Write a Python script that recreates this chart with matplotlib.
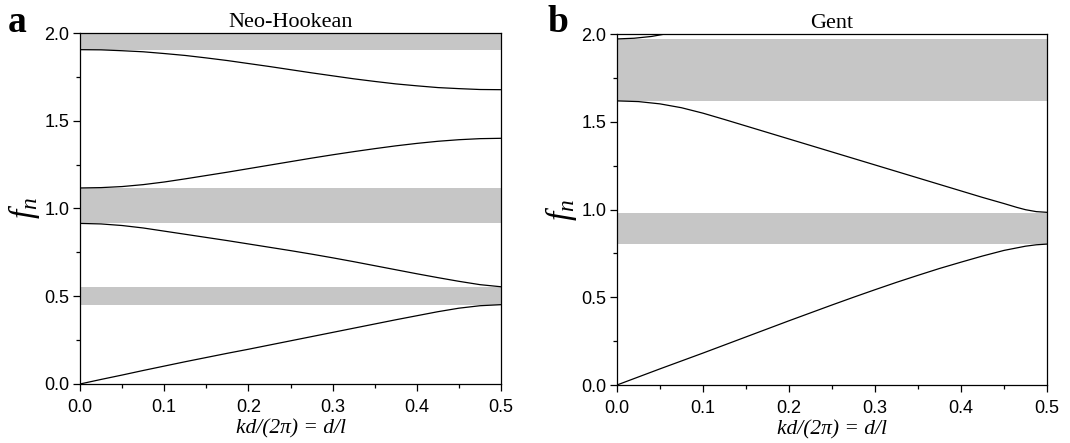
import matplotlib
matplotlib.use("Agg")
import matplotlib.pyplot as plt
from matplotlib.ticker import MultipleLocator, FormatStrFormatter

plt.rcParams["mathtext.fontset"] = "custom"
plt.rcParams["mathtext.rm"] = "Liberation Serif"
plt.rcParams["mathtext.it"] = "Liberation Serif:italic"
plt.rcParams["font.family"] = "Liberation Sans"

kx = [0.0, 0.025, 0.05, 0.075, 0.1, 0.125, 0.15, 0.175, 0.2, 0.225, 0.25,
      0.275, 0.3, 0.325, 0.35, 0.375, 0.4, 0.425, 0.45, 0.475, 0.5]

# Neo-Hookean bands
neo_b1 = [0.0, 0.026, 0.051, 0.077, 0.102, 0.127, 0.151, 0.175, 0.198, 0.222, 0.246,
          0.270, 0.294, 0.318, 0.342, 0.366, 0.389, 0.412, 0.432, 0.446, 0.452]
neo_b2 = [0.915, 0.912, 0.903, 0.889, 0.871, 0.853, 0.835, 0.817, 0.798, 0.779, 0.760,
          0.740, 0.719, 0.697, 0.674, 0.651, 0.628, 0.606, 0.585, 0.566, 0.554]
neo_b3 = [1.117, 1.119, 1.125, 1.136, 1.151, 1.169, 1.188, 1.207, 1.227, 1.247, 1.267,
          1.287, 1.306, 1.324, 1.341, 1.357, 1.371, 1.383, 1.392, 1.398, 1.400]
neo_b4 = [1.905, 1.904, 1.899, 1.893, 1.883, 1.872, 1.858, 1.843, 1.826, 1.809, 1.791,
          1.773, 1.756, 1.739, 1.724, 1.710, 1.699, 1.689, 1.683, 1.678, 1.677]
neo_gaps = [(0.452, 0.554), (0.915, 1.115), (1.905, 2.0)]

# Gent bands
gent_b1_x = [0.0, 0.025, 0.05, 0.075, 0.1, 0.125, 0.15, 0.175, 0.2, 0.225, 0.25,
             0.275, 0.3, 0.325, 0.35, 0.375, 0.4, 0.425, 0.45, 0.475, 0.4875, 0.5]
gent_b1 = [0.0, 0.046, 0.092, 0.137, 0.182, 0.228, 0.274, 0.320, 0.366, 0.411, 0.456,
           0.500, 0.543, 0.585, 0.625, 0.664, 0.700, 0.735, 0.767, 0.791, 0.799, 0.803]
gent_b2_x = [0.0, 0.025, 0.05, 0.075, 0.1, 0.125, 0.15, 0.175, 0.2, 0.225, 0.25,
             0.275, 0.3, 0.325, 0.35, 0.375, 0.4, 0.425, 0.45, 0.465, 0.475, 0.4875, 0.5]
gent_b2 = [1.619, 1.615, 1.602, 1.580, 1.549, 1.513, 1.476, 1.439, 1.402, 1.365, 1.328,
           1.291, 1.254, 1.217, 1.180, 1.143, 1.106, 1.069, 1.034, 1.012, 0.999, 0.988, 0.984]
gent_b3_x = [0.0, 0.02, 0.04, 0.056]
gent_b3 = [1.972, 1.976, 1.986, 2.0]
gent_gaps = [(0.803, 0.983), (1.619, 1.969)]

fig = plt.figure(figsize=(10.7, 4.43), dpi=100)
ax1 = fig.add_axes([0.0748, 0.1332, 0.3935, 0.7923])
ax2 = fig.add_axes([0.5766, 0.1309, 0.4019, 0.7923])

panels = [
    (ax1, "Neo-Hookean", "a", 0.0075, neo_gaps,
     [(kx, neo_b1), (kx, neo_b2), (kx, neo_b3), (kx, neo_b4)]),
    (ax2, "Gent", "b", 0.5121, gent_gaps,
     [(gent_b1_x, gent_b1), (gent_b2_x, gent_b2), (gent_b3_x, gent_b3)]),
]

for ax, title, tag, tag_x, gaps, curves in panels:
    for lo, hi in gaps:
        ax.axhspan(lo, hi, color="#c6c6c6", lw=0, zorder=1)
    for xs, ys in curves:
        ax.plot(xs, ys, color="black", lw=0.9, zorder=2)
    ax.set_xlim(0, 0.5)
    ax.set_ylim(0, 2.0)
    ax.xaxis.set_major_locator(MultipleLocator(0.1))
    ax.xaxis.set_minor_locator(MultipleLocator(0.05))
    ax.yaxis.set_major_locator(MultipleLocator(0.5))
    ax.yaxis.set_minor_locator(MultipleLocator(0.25))
    ax.tick_params(which="both", direction="out", top=False, right=False, width=0.9)
    ax.tick_params(which="major", length=5, labelsize=13)
    ax.tick_params(which="minor", length=3)
    ax.tick_params(axis="x", which="major", pad=6)
    ax.tick_params(axis="y", which="major", pad=2.5)
    ax.xaxis.set_major_formatter(FormatStrFormatter("%.1f"))
    ax.yaxis.set_major_formatter(FormatStrFormatter("%.1f"))
    for s in ax.spines.values():
        s.set_linewidth(0.9)
    ax.set_title(title, family="Liberation Serif", fontsize=16, pad=4.5)
    ax.set_xlabel("kd/(2π) = d/l", family="Liberation Serif", style="italic",
                  fontsize=15.5, labelpad=2)
    ax.set_ylabel(r"$f_n$", fontsize=24, labelpad=2)
    fig.text(tag_x, 0.928, tag, family="Liberation Serif", fontweight="bold",
             fontsize=27, ha="left", va="baseline")

fig.savefig("out.png", dpi=100)
